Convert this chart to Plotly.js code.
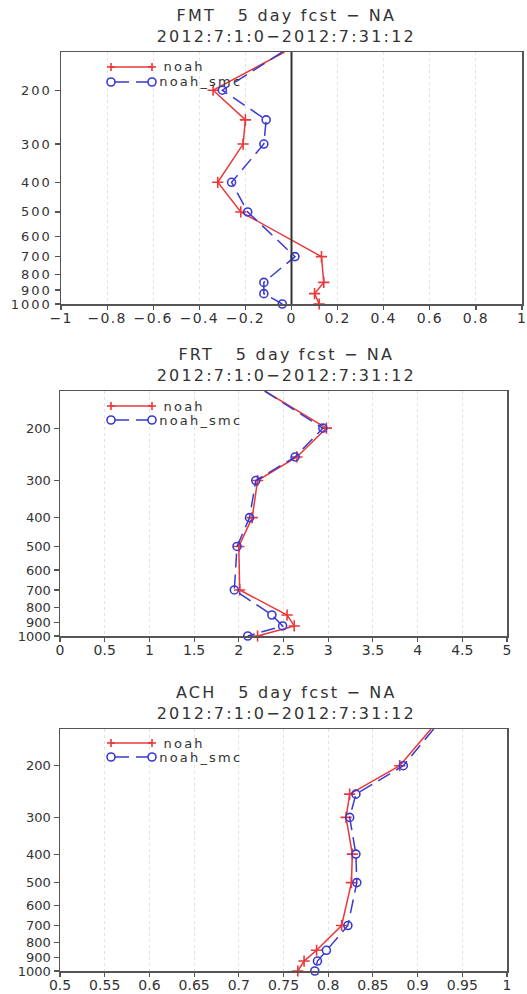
<!DOCTYPE html>
<html>
<head>
<meta charset="utf-8">
<script src="https://cdn.plot.ly/plotly-3.0.1.min.js"></script>
<style>
html,body{margin:0;padding:0;background:#fff;}
#chart{width:527px;height:994px;}
#chart .annotation-text{letter-spacing:2.2px;}
#chart .xtick text{letter-spacing:1.3px;}
#chart .ytick text{letter-spacing:2px;}
</style>
</head>
<body>
<div id="chart"></div>
<script>
// pressure levels (hPa)
const levels = [150, 200, 250, 300, 400, 500, 700, 850, 925, 1000];

// FMT panel
const fmtNoah = [-0.03, -0.34, -0.20, -0.21, -0.32, -0.22, 0.13, 0.14, 0.10, 0.12];
const fmtSmc  = [-0.04, -0.30, -0.11, -0.12, -0.26, -0.19, 0.015, -0.12, -0.12, -0.04];
// FRT panel
const frtNoah = [2.29, 2.98, 2.65, 2.21, 2.15, 2.00, 2.01, 2.54, 2.62, 2.21];
const frtSmc  = [2.29, 2.94, 2.63, 2.19, 2.12, 1.98, 1.95, 2.37, 2.49, 2.10];
// ACH panel
const achNoah = [0.915, 0.880, 0.824, 0.820, 0.827, 0.826, 0.815, 0.787, 0.773, 0.766];
const achSmc  = [0.918, 0.884, 0.831, 0.824, 0.831, 0.832, 0.822, 0.798, 0.788, 0.785];

const panelNames = ["FMT", "FRT", "ACH"];
const subTitle = "2012:7:1:0\u22122012:7:31:12";
const seriesNames = ["noah", "noah_smc"];
const yTicks = [200, 300, 400, 500, 600, 700, 800, 900, 1000];

const xTicks1 = [-1, -0.8, -0.6, -0.4, -0.2, 0, 0.2, 0.4, 0.6, 0.8, 1];
const xTicks2 = [0, 0.5, 1, 1.5, 2, 2.5, 3, 3.5, 4, 4.5, 5];
const xTicks3 = [0.5, 0.55, 0.6, 0.65, 0.7, 0.75, 0.8, 0.85, 0.9, 0.95, 1];

const W = 527, H = 994;
const RED = "#e8383a", BLUE = "#3a3ad0", FRAME = "#555555", TXT = "#333333";
const FONT = "DejaVu Sans, sans-serif";
const DASH = "14px,7px";

// panel boxes in pixels
const boxes = [
  {l: 61, r: 522, t: 52, b: 304, tc: 26, lg1: 67, lg2: 82},
  {l: 60, r: 507, t: 391, b: 636, tc: 365, lg1: 406, lg2: 420},
  {l: 60, r: 507, t: 729, b: 971, tc: 703, lg1: 743, lg2: 757}
];
const data = [[fmtNoah, fmtSmc], [frtNoah, frtSmc], [achNoah, achSmc]];
const xTicks = [xTicks1, xTicks2, xTicks3];

const traces = [];
const layout = {
  width: W, height: H,
  margin: {l: 0, r: 0, t: 0, b: 0},
  paper_bgcolor: "#fff", plot_bgcolor: "#fff",
  showlegend: false,
  font: {family: FONT, color: TXT, size: 14},
  annotations: [], shapes: []
};

function fmtTick(v) {
  const s = String(v);
  return v < 0 ? "\u2212" + s.slice(1) : s;
}

boxes.forEach((b, i) => {
  const n = i + 1;
  const xa = "x" + (n === 1 ? "" : n), ya = "y" + (n === 1 ? "" : n);
  const xk = "xaxis" + (n === 1 ? "" : n), yk = "yaxis" + (n === 1 ? "" : n);
  const xt = xTicks[i];
  layout[xk] = {
    domain: [b.l / W, b.r / W], anchor: ya,
    range: [xt[0], xt[xt.length - 1]],
    tickvals: xt, ticktext: xt.map(fmtTick),
    ticks: "outside", ticklen: 4, tickcolor: FRAME, tickwidth: 1.2,
    ticklabelstandoff: -3,
    showline: true, linecolor: FRAME, linewidth: 1.5, mirror: true,
    showgrid: true, gridcolor: "#e2e2e2", griddash: "dot", gridwidth: 1,
    zeroline: false, tickfont: {family: FONT, size: 14, color: TXT}
  };
  layout[yk] = {
    domain: [1 - b.b / H, 1 - b.t / H], anchor: xa,
    type: "log", range: [Math.log10(1000), Math.log10(150)],
    tickvals: yTicks, ticktext: yTicks.map(String),
    ticks: "outside", ticklen: 5, tickcolor: FRAME, tickwidth: 1.2,
    showline: true, linecolor: FRAME, linewidth: 1.5, mirror: true,
    showgrid: false, zeroline: false,
    tickfont: {family: FONT, size: 13, color: TXT}
  };
  traces.push({
    type: "scatter", mode: "lines+markers", name: seriesNames[0],
    x: data[i][0], y: levels, xaxis: xa, yaxis: ya, cliponaxis: false,
    line: {color: RED, width: 1.5},
    marker: {symbol: "cross-thin-open", size: 8, line: {color: RED, width: 1.6}}
  });
  traces.push({
    type: "scatter", mode: "lines+markers", name: seriesNames[1],
    x: data[i][1], y: levels, xaxis: xa, yaxis: ya, cliponaxis: false,
    line: {color: BLUE, width: 1.5, dash: DASH},
    marker: {symbol: "circle-open", size: 8, line: {color: BLUE, width: 1.6}}
  });
  // two-line title
  layout.annotations.push({
    xref: "paper", yref: "paper", x: 286 / W, y: 1 - b.tc / H,
    xanchor: "center", yanchor: "middle", showarrow: false,
    text: panelNames[i] + "\u00a0\u00a0 5 day fcst \u2212 NA<br>" + subTitle,
    font: {family: FONT, size: 16, color: TXT}
  });
  // legend (drawn manually: sample line with markers at both ends)
  const lx0 = 111, lx1 = 152;
  const py = (p) => 1 - p / H, px = (p) => p / W;
  layout.shapes.push({type: "line", xref: "paper", yref: "paper",
    x0: px(lx0), x1: px(lx1), y0: py(b.lg1), y1: py(b.lg1), line: {color: RED, width: 1.5}});
  [lx0, lx1].forEach(xx => {
    layout.shapes.push({type: "line", xref: "paper", yref: "paper",
      x0: px(xx - 4), x1: px(xx + 4), y0: py(b.lg1), y1: py(b.lg1), line: {color: RED, width: 1.6}});
    layout.shapes.push({type: "line", xref: "paper", yref: "paper",
      x0: px(xx), x1: px(xx), y0: py(b.lg1 - 4), y1: py(b.lg1 + 4), line: {color: RED, width: 1.6}});
  });
  layout.shapes.push({type: "line", xref: "paper", yref: "paper",
    x0: px(lx0 + 4), x1: px(lx1 - 4), y0: py(b.lg2), y1: py(b.lg2), line: {color: BLUE, width: 1.5, dash: DASH}});
  [lx0, lx1].forEach(xx => {
    layout.shapes.push({type: "circle", xref: "paper", yref: "paper",
      x0: px(xx - 4), x1: px(xx + 4), y0: py(b.lg2 + 4), y1: py(b.lg2 - 4),
      line: {color: BLUE, width: 1.6}, fillcolor: "rgba(0,0,0,0)"});
  });
  layout.annotations.push({xref: "paper", yref: "paper", x: px(166), y: py(b.lg1),
    xanchor: "left", yanchor: "middle", showarrow: false, text: seriesNames[0],
    font: {family: FONT, size: 13, color: TXT}});
  layout.annotations.push({xref: "paper", yref: "paper", x: px(166), y: py(b.lg2),
    xanchor: "left", yanchor: "middle", showarrow: false, text: seriesNames[1],
    font: {family: FONT, size: 13, color: TXT}});
});

// zero reference line in the FMT panel
layout.shapes.push({type: "line", xref: "x", yref: "y domain", x0: 0, x1: 0, y0: 0, y1: 1,
  line: {color: "#333333", width: 2}});

Plotly.newPlot("chart", traces, layout, {staticPlot: true});
</script>
</body>
</html>
